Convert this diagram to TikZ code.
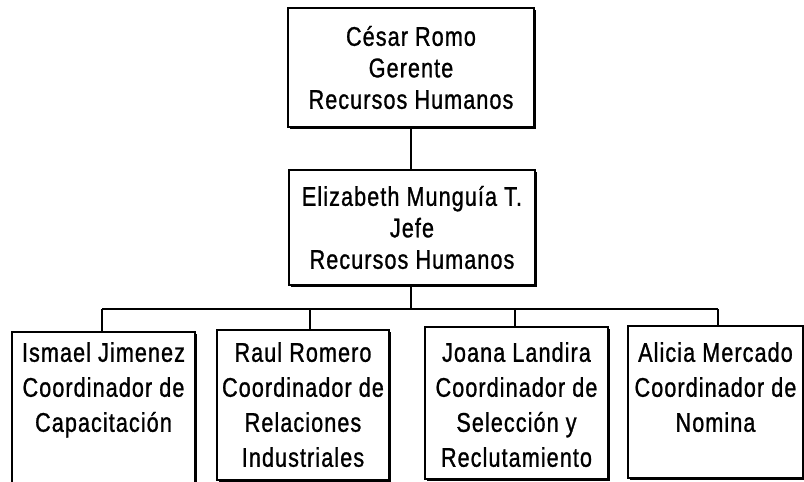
\documentclass[tikz,border=0pt]{standalone}
\usepackage{fontspec}
\setmainfont[FakeStretch=0.8,LetterSpace=4,FakeBold=1]{Liberation Sans}
\usetikzlibrary{shadows}
\begin{document}
\begin{tikzpicture}[x=1pt,y=-1pt,
  box/.style={draw,line width=2.3pt,inner sep=0pt,fill=white,
    drop shadow={shadow xshift=1.5pt,shadow yshift=-1.5pt,fill=black,opacity=1}},
  txt/.style={align=center,font=\fontsize{27}{31.5}\selectfont,inner sep=0pt},
  ltxt/.style={align=center,font=\fontsize{27}{35}\selectfont,inner sep=0pt,anchor=north},
  conn/.style={line width=1.6pt}]
\useasboundingbox (0,0) rectangle (804,482);
% boxes
\node[box,minimum width=246pt,minimum height=119pt] (top) at (411,67.5) {};
\node[box,minimum width=246pt,minimum height=115pt] (mid) at (412,227.5) {};
\node[box,minimum width=183pt,minimum height=160pt] (b1) at (103.5,412) {};
\node[box,minimum width=172pt,minimum height=150pt] (b2) at (303,405) {};
\node[box,minimum width=183pt,minimum height=152pt] (b3) at (516.5,403) {};
\node[box,minimum width=175pt,minimum height=152pt] (b4) at (715.5,402) {};
% texts
\node[txt] (toptxt) at (top.center) {César Romo\\Gerente\\Recursos Humanos};
\node[txt] (midtxt) at (mid.center) {Elizabeth Munguía T.\\Jefe\\Recursos Humanos};
\node[ltxt] (t1) at (103.5,342) {Ismael Jimenez\\Coordinador de\\Capacitación};
\node[ltxt] (t2) at (303,342) {Raul Romero\\Coordinador de\\Relaciones\\Industriales};
\node[ltxt] (t3) at (516.5,342) {Joana Landira\\Coordinador de\\Selección y\\Reclutamiento};
\node[ltxt] (t4) at (715.5,342) {Alicia Mercado\\Coordinador de\\Nomina};
% connectors
\coordinate (bus) at (411,309);
\coordinate (d1) at (102,309);
\coordinate (d2) at (310,309);
\coordinate (d3) at (515,309);
\coordinate (d4) at (718,309);
\draw[conn] (top.south -| bus) -- (mid.north -| bus);
\draw[conn] (mid.south -| bus) -- (bus);
\draw[conn] (d1) -- (d4);
\draw[conn] (d1) -- (d1 |- b1.north);
\draw[conn] (d2) -- (d2 |- b2.north);
\draw[conn] (d3) -- (d3 |- b3.north);
\draw[conn] (d4) -- (d4 |- b4.north);
\end{tikzpicture}
\end{document}
